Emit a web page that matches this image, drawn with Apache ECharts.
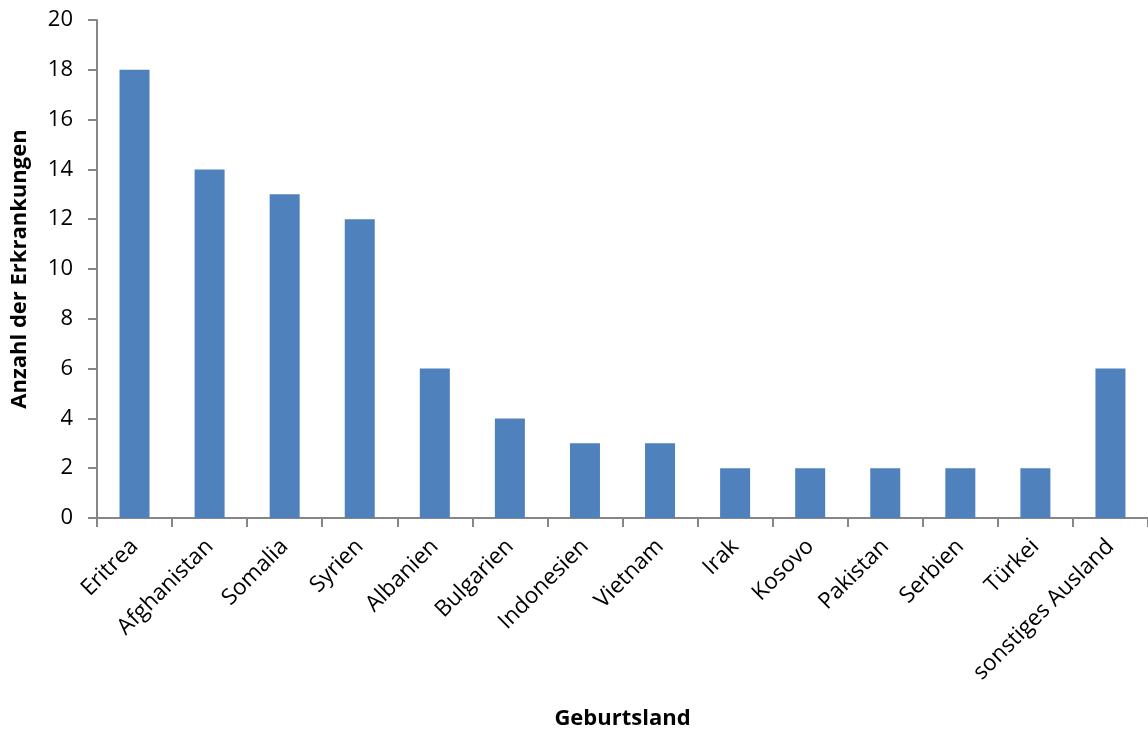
<!DOCTYPE html>
<html>
<head>
<meta charset="utf-8">
<script src="https://cdn.jsdelivr.net/npm/echarts@6/dist/echarts.min.js"></script>
<style>html,body{margin:0;padding:0;background:#fff}#c{width:1148px;height:735px}</style>
</head>
<body>
<div id="c"></div>
<script>
const categories = ["Eritrea","Afghanistan","Somalia","Syrien","Albanien","Bulgarien","Indonesien","Vietnam","Irak","Kosovo","Pakistan","Serbien","Türkei","sonstiges Ausland"];
const values = [18,14,13,12,6,4,3,3,2,2,2,2,2,6];
const yTicks = {min:0, max:20, interval:2};

const chart = echarts.init(document.getElementById('c'));
const font = "'Open Sans', 'Liberation Sans', sans-serif";
chart.setOption({
  animation:false,
  grid:{left:97, top:20, width:1055, height:500},
  xAxis:{
    type:'category', data:categories,
    name:'Geburtsland', nameLocation:'middle', nameGap:190,
    nameTextStyle:{fontFamily:font, fontSize:22, fontWeight:'bold', color:'#000'},
    axisLine:{lineStyle:{color:'#868686', width:2}},
    axisTick:{show:true, length:9, lineStyle:{color:'#868686', width:2}},
    axisLabel:{rotate:45, interval:0, margin:25, fontFamily:font, fontSize:22.5, color:'#000'}
  },
  yAxis:{
    type:'value', min:yTicks.min, max:yTicks.max, interval:yTicks.interval,
    name:'Anzahl der Erkrankungen', nameLocation:'middle', nameGap:66,
    nameTextStyle:{fontFamily:font, fontSize:22, fontWeight:'bold', color:'#000'},
    splitLine:{show:false},
    axisLine:{show:true, lineStyle:{color:'#868686', width:2}},
    axisTick:{show:true, length:9, lineStyle:{color:'#868686', width:2}},
    axisLabel:{margin:24, fontFamily:font, fontSize:22, color:'#000'}
  },
  series:[{type:'bar', data:values, barWidth:30, itemStyle:{color:'#4F81BD'}}]
});
</script>
</body>
</html>
